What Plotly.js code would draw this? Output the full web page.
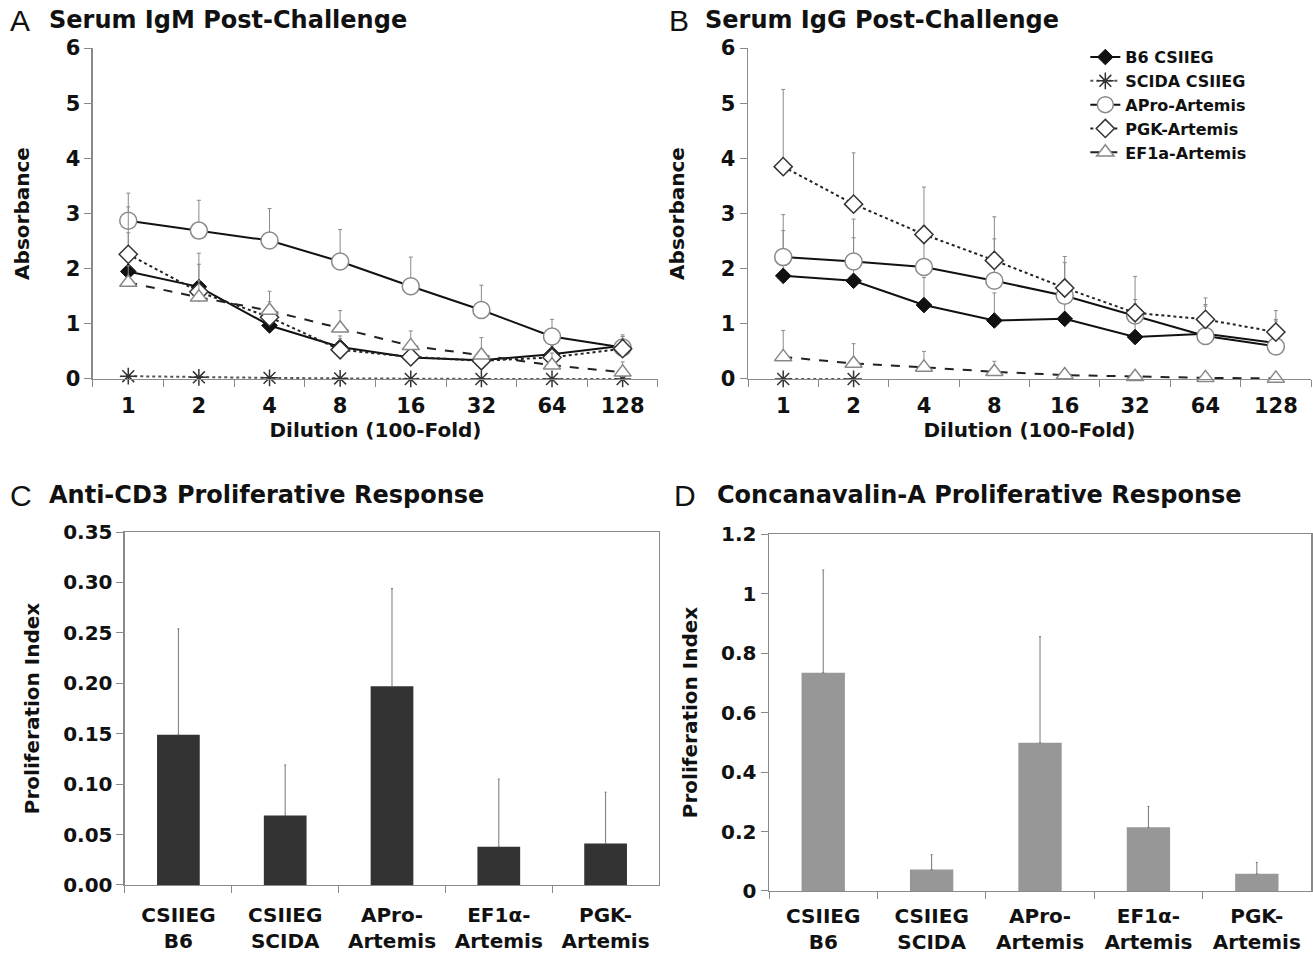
<!DOCTYPE html>
<html>
<head>
<meta charset="utf-8">
<script src="https://cdn.plot.ly/plotly-3.0.1.min.js"></script>
<style>html,body{margin:0;padding:0;background:#fff;}#chart{width:1313px;height:956px;}</style>
</head>
<body>
<div id="chart"></div>
<script>
// ---- Data ----
var dilutions = ['1', '2', '4', '8', '16', '32', '64', '128'];

// Panel A: Serum IgM
var igmB6 = [1.95, 1.67, 0.97, 0.58, 0.39, 0.34, 0.45, 0.60];
var igmB6Err = [0.70, 0.61, 0.30, 0.20, 0.15, 0.15, 0.15, 0.20];
var igmScida = [0.05, 0.03, 0.02, 0.01, 0.00, 0.00, 0.00, 0.00];
var igmScidaErr = [0, 0, 0, 0, 0, 0, 0, 0];
var igmAPro = [2.87, 2.69, 2.51, 2.13, 1.68, 1.25, 0.77, 0.57];
var igmAProErr = [0.50, 0.55, 0.58, 0.58, 0.53, 0.45, 0.31, 0.20];
var igmPGK = [2.26, 1.58, 1.12, 0.53, 0.40, 0.33, 0.39, 0.55];
var igmPGKErr = [0.86, 0.50, 0.28, 0.20, 0.15, 0.15, 0.15, 0.15];
var igmEF1a = [1.75, 1.48, 1.24, 0.92, 0.60, 0.43, 0.25, 0.12];
var igmEF1aErr = [0.30, 0.30, 0.35, 0.32, 0.27, 0.32, 0.22, 0.19];

// Panel B: Serum IgG
var iggB6 = [1.87, 1.78, 1.34, 1.06, 1.09, 0.76, 0.82, 0.65];
var iggB6Err = [0.82, 0.78, 0.50, 0.50, 0.40, 0.60, 0.50, 0.40];
var iggScida = [0.00, 0.00, null, null, null, null, null, null];
var iggScidaErr = [0, 0, 0, 0, 0, 0, 0, 0];
var iggAPro = [2.21, 2.13, 2.03, 1.78, 1.51, 1.15, 0.78, 0.59];
var iggAProErr = [0.77, 0.77, 0.74, 0.76, 0.60, 0.29, 0.57, 0.49];
var iggPGK = [3.85, 3.17, 2.62, 2.15, 1.65, 1.20, 1.08, 0.85];
var iggPGKErr = [1.40, 0.93, 0.86, 0.79, 0.57, 0.66, 0.39, 0.39];
var iggEF1a = [0.40, 0.28, 0.21, 0.13, 0.07, 0.04, 0.02, 0.01];
var iggEF1aErr = [0.48, 0.36, 0.29, 0.19, 0.10, 0.05, 0.02, 0.02];

// Panels C and D
var groups = ['CSIIEG<br>B6', 'CSIIEG<br>SCIDA', 'APro-<br>Artemis', 'EF1α-<br>Artemis', 'PGK-<br>Artemis'];
var cd3Values = [0.149, 0.069, 0.197, 0.038, 0.041];
var cd3Errors = [0.105, 0.050, 0.097, 0.067, 0.051];
var conAValues = [0.734, 0.072, 0.498, 0.214, 0.058];
var conAErrors = [0.345, 0.050, 0.357, 0.070, 0.038];

// ---- Styles ----
var FONT = 'DejaVu Sans';
var series = [
  {name: 'B6 CSIIEG', line: {color: '#111', width: 2, dash: 'solid'},
   marker: {symbol: 'diamond', size: 12, color: '#111', line: {color: '#111', width: 1}}},
  {name: 'SCIDA CSIIEG', line: {color: '#555', width: 2, dash: 'dot'},
   marker: {symbol: 'asterisk-open', size: 14, color: '#333', line: {color: '#333', width: 1.5}}},
  {name: 'APro-Artemis', line: {color: '#111', width: 2, dash: 'solid'},
   marker: {symbol: 'circle', size: 17, color: '#fff', line: {color: '#888', width: 1.5}}},
  {name: 'PGK-Artemis', line: {color: '#222', width: 2, dash: 'dot'},
   marker: {symbol: 'diamond', size: 14, color: '#fff', line: {color: '#333', width: 1.5}}},
  {name: 'EF1a-Artemis', line: {color: '#222', width: 2, dash: 'dash'},
   marker: {symbol: 'triangle-up', size: 15, color: '#fff', line: {color: '#888', width: 1.5}}}
];

function lineTrace(s, ys, errs, xa, ya, showlegend) {
  return {
    type: 'scatter', mode: 'lines+markers', x: dilutions, y: ys,
    name: s.name, xaxis: xa, yaxis: ya, showlegend: showlegend,
    line: s.line, marker: s.marker, cliponaxis: false,
    error_y: {type: 'data', symmetric: false, array: errs,
              arrayminus: errs.map(function () { return 0; }),
              color: '#8a8a8a', thickness: 1, width: 2}
  };
}

var dataA = [[igmB6, igmB6Err], [igmScida, igmScidaErr], [igmAPro, igmAProErr], [igmPGK, igmPGKErr], [igmEF1a, igmEF1aErr]];
var dataB = [[iggB6, iggB6Err], [iggScida, iggScidaErr], [iggAPro, iggAProErr], [iggPGK, iggPGKErr], [iggEF1a, iggEF1aErr]];

var traces = [];
[0, 1, 2, 3, 4].forEach(function (i) {
  traces.push(lineTrace(series[i], dataA[i][0], dataA[i][1], 'x', 'y', false));
});
[0, 1, 2, 3, 4].forEach(function (i) {
  traces.push(lineTrace(series[i], dataB[i][0], dataB[i][1], 'x2', 'y2', true));
});

traces.push({type: 'bar', x: groups, y: cd3Values, xaxis: 'x3', yaxis: 'y3', showlegend: false,
  marker: {color: '#333333'},
  error_y: {type: 'data', symmetric: false, array: cd3Errors,
            arrayminus: cd3Errors.map(function () { return 0; }), color: '#777', thickness: 1, width: 1}});
traces.push({type: 'bar', x: groups, y: conAValues, xaxis: 'x4', yaxis: 'y4', showlegend: false,
  marker: {color: '#979797'},
  error_y: {type: 'data', symmetric: false, array: conAErrors,
            arrayminus: conAErrors.map(function () { return 0; }), color: '#777', thickness: 1, width: 1}});

var tickF = {family: FONT, size: 21, color: '#111', weight: 'bold'};
var titleF = {family: FONT, size: 20, color: '#111', weight: 'bold'};
var catF = {family: FONT, size: 20, color: '#111', weight: 'bold'};
var AX = '#8a8a8a';

function xLine(domain, title) {
  return {domain: domain, type: 'category', range: [-0.5, 7.5], showline: true, linecolor: AX, linewidth: 1.5,
    ticks: 'outside', tickson: 'boundaries', ticklen: 7, tickcolor: AX, showgrid: false, zeroline: false,
    tickfont: tickF, ticklabelstandoff: 7, fixedrange: true,
    title: {text: title, font: titleF, standoff: 6}};
}
function yLine(domain, anchor) {
  return {domain: domain, anchor: anchor, range: [0, 6], dtick: 1, showline: true, linecolor: AX, linewidth: 1.5,
    ticks: 'outside', ticklen: 7, tickcolor: AX, showgrid: false, zeroline: false, tickfont: tickF,
    title: {text: 'Absorbance', font: titleF, standoff: 30}};
}
function xBar(domain, standoff) {
  return {domain: domain, type: 'category', showline: true, mirror: true, linecolor: AX, linewidth: 1.5,
    ticks: 'outside', tickson: 'boundaries', ticklen: 7, tickcolor: AX, showgrid: false, zeroline: false,
    tickfont: catF, ticklabelstandoff: standoff};
}
function yBar(domain, anchor, range, dtick, fmt) {
  return {domain: domain, anchor: anchor, range: range, dtick: dtick, tickformat: fmt, showline: true, mirror: true,
    linecolor: AX, linewidth: 1.5, ticks: 'outside', ticklen: 7, tickcolor: AX, showgrid: false, zeroline: false,
    tickfont: {family: FONT, size: 20, color: '#111', weight: 'bold'},
    title: {text: 'Proliferation Index', font: titleF, standoff: 18}};
}

var yTopDom = [0.6036, 0.9497];
var layout = {
  width: 1313, height: 956,
  margin: {l: 0, r: 0, t: 0, b: 0},
  paper_bgcolor: '#fff', plot_bgcolor: '#fff',
  font: {family: FONT, color: '#111', weight: 'bold'},
  bargap: 0.6,
  xaxis: Object.assign(xLine([0.0708, 0.5011], 'Dilution (100-Fold)'), {anchor: 'y'}),
  yaxis: yLine(yTopDom, 'x'),
  xaxis2: Object.assign(xLine([0.5697, 0.9985], 'Dilution (100-Fold)'), {anchor: 'y2'}),
  yaxis2: yLine(yTopDom, 'x2'),
  xaxis3: Object.assign(xBar([0.0952, 0.5019], 12), {anchor: 'y3'}),
  yaxis3: yBar([0.0743, 0.4435], 'x3', [0, 0.35], 0.05, '.2f'),
  xaxis4: Object.assign(xBar([0.5857, 0.9985], 7), {anchor: 'y4'}),
  yaxis4: yBar([0.068, 0.4414], 'x4', [0, 1.2], 0.2, ''),
  showlegend: true,
  legend: {x: 0.8266, y: 0.958, xanchor: 'left', yanchor: 'top', bgcolor: 'rgba(0,0,0,0)',
    font: {family: FONT, size: 16, color: '#111', weight: 'bold'}, tracegroupgap: 0, itemwidth: 30},
  annotations: [
    {text: 'A', x: 0.006, y: 0.979, xref: 'paper', yref: 'paper', xanchor: 'left', yanchor: 'middle', showarrow: false,
     font: {family: 'Liberation Sans', size: 30, color: '#111', weight: 'normal'}},
    {text: 'Serum IgM Post-Challenge', x: 0.0355, y: 0.979, xref: 'paper', yref: 'paper', xanchor: 'left', yanchor: 'middle', showarrow: false,
     font: {family: FONT, size: 24, color: '#111', weight: 'bold'}},
    {text: 'B', x: 0.508, y: 0.979, xref: 'paper', yref: 'paper', xanchor: 'left', yanchor: 'middle', showarrow: false,
     font: {family: 'Liberation Sans', size: 30, color: '#111', weight: 'normal'}},
    {text: 'Serum IgG Post-Challenge', x: 0.5355, y: 0.979, xref: 'paper', yref: 'paper', xanchor: 'left', yanchor: 'middle', showarrow: false,
     font: {family: FONT, size: 24, color: '#111', weight: 'bold'}},
    {text: 'C', x: 0.006, y: 0.4822, xref: 'paper', yref: 'paper', xanchor: 'left', yanchor: 'middle', showarrow: false,
     font: {family: 'Liberation Sans', size: 30, color: '#111', weight: 'normal'}},
    {text: 'Anti-CD3 Proliferative Response', x: 0.0355, y: 0.4822, xref: 'paper', yref: 'paper', xanchor: 'left', yanchor: 'middle', showarrow: false,
     font: {family: FONT, size: 24, color: '#111', weight: 'bold'}},
    {text: 'D', x: 0.512, y: 0.4822, xref: 'paper', yref: 'paper', xanchor: 'left', yanchor: 'middle', showarrow: false,
     font: {family: 'Liberation Sans', size: 30, color: '#111', weight: 'normal'}},
    {text: 'Concanavalin-A Proliferative Response', x: 0.5445, y: 0.4822, xref: 'paper', yref: 'paper', xanchor: 'left', yanchor: 'middle', showarrow: false,
     font: {family: FONT, size: 24, color: '#111', weight: 'bold'}}
  ]
};

Plotly.newPlot('chart', traces, layout, {displayModeBar: false, staticPlot: true});
</script>
</body>
</html>
